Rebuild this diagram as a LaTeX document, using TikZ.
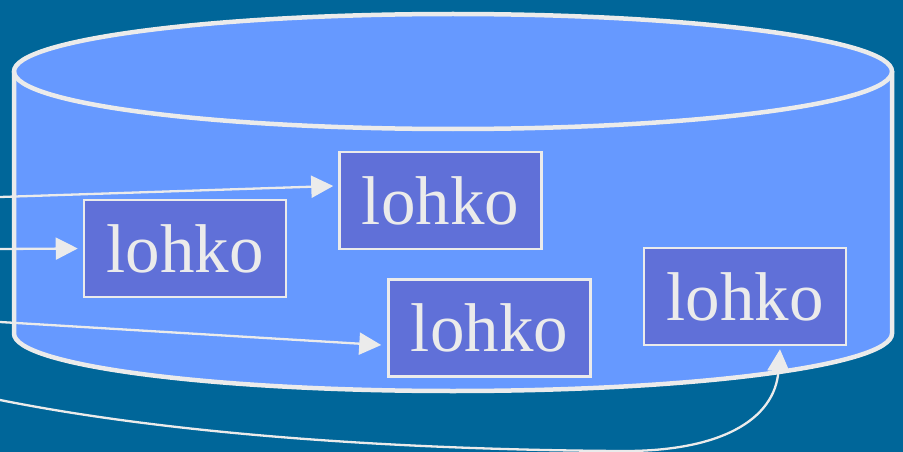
\documentclass[tikz,border=0pt]{standalone}
\usepackage{fontspec}
\setmainfont{Liberation Serif}
\usetikzlibrary{arrows.meta}
\definecolor{bgblue}{RGB}{0,102,153}
\definecolor{cylblue}{RGB}{102,153,255}
\definecolor{boxblue}{RGB}{96,112,216}
\definecolor{lightline}{RGB}{235,235,235}
\tikzset{
  cylfill/.style={fill=cylblue},
  cylline/.style={draw=lightline, line width=4.5pt},
  blockbox/.style={draw=lightline, fill=boxblue, line width=2.5pt, inner sep=0pt,
    minimum width=202pt, minimum height=97pt, text=lightline,
    font=\fontsize{69}{69}\selectfont},
  conn/.style={draw=lightline, line width=2.3pt, -{Triangle[length=22pt,width=22pt]}},
}
\begin{document}
\begin{tikzpicture}[x=1pt,y=-1pt]
\useasboundingbox (0,0) rectangle (903,452);
\fill[bgblue] (0,0) rectangle (903,452);
% cylinder body
\fill[cylfill] (14,71.5) -- (14,333.5) arc[start angle=180,end angle=360,x radius=439pt,y radius=57.5pt] -- (892,71.5) -- cycle;
\fill[cylfill] (453,71.5) ellipse[x radius=439pt,y radius=57.5pt];
\draw[cylline] (14,71.5) -- (14,333.5) arc[start angle=180,end angle=360,x radius=439pt,y radius=57.5pt] -- (892,71.5);
\draw[cylline] (453,71.5) ellipse[x radius=439pt,y radius=57.5pt];
% blocks
\node[blockbox] (b1) at (185,248.5) {lohko};
\node[blockbox] (b2) at (440.5,200.5) {lohko};
\node[blockbox] (b3) at (489.5,328) {lohko};
\node[blockbox] (b4) at (745,296.5) {lohko};
% connector start points
\coordinate (s1) at (0,197);
\coordinate (s2) at (0,249);
\coordinate (s3) at (0,322);
\coordinate (s4) at (0,400);
% connectors
\draw[conn] (s1) -- ([xshift=-5pt,yshift=14.5pt]b2.west);
\draw[conn] (s2) -- ([xshift=-5pt]b1.west);
\draw[conn] (s3) -- ([xshift=-6pt,yshift=-17pt]b3.west);
\draw[conn] (s4) .. controls (200,440) and (450,450) .. (620,451)
  .. controls (720,452) and (775,420) .. ([xshift=35pt,yshift=-3pt]b4.south);
\end{tikzpicture}
\end{document}
